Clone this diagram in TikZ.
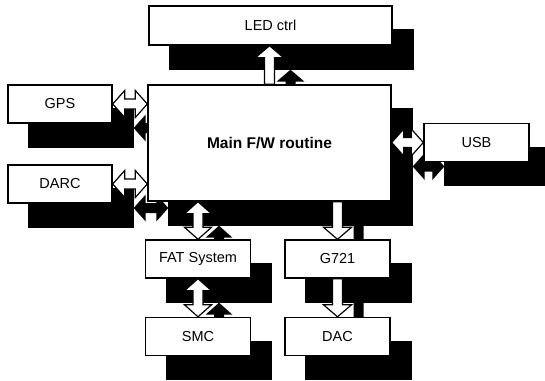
\documentclass[tikz,border=0pt]{standalone}
\usepackage{fontspec}
\setmainfont{Liberation Sans}
\usetikzlibrary{calc}

\pgfdeclarelayer{bg}
\pgfsetlayers{bg,main}

\tikzset{
  unit/.style={draw, fill=white, line width=1.4pt, inner sep=0pt,
    font=\fontsize{14.5}{16}\selectfont},
  smallunit/.style={unit, minimum width=105, minimum height=38},
  wideunit/.style={unit, minimum width=243},
  link/.style={fill=white, line width=1.2pt},
  onearrow/.style={to path={
    ($(\tikztotarget)!12pt!(\tikztostart)$) coordinate (hB)
    ($(\tikztostart)!5pt!90:(\tikztotarget)$) -- ($(hB)!5pt!-90:(\tikztostart)$)
    -- ($(hB)!14pt!-90:(\tikztostart)$) -- (\tikztotarget)
    -- ($(hB)!14pt!90:(\tikztostart)$) -- ($(hB)!5pt!90:(\tikztostart)$)
    -- ($(\tikztostart)!5pt!-90:(\tikztotarget)$) -- cycle}},
  twoarrow/.style={to path={
    ($(\tikztostart)!12pt!(\tikztotarget)$) coordinate (hA)
    ($(\tikztotarget)!12pt!(\tikztostart)$) coordinate (hB)
    (\tikztostart) -- ($(hA)!13.5pt!90:(\tikztotarget)$) -- ($(hA)!5pt!90:(\tikztotarget)$)
    -- ($(hB)!5pt!-90:(\tikztostart)$) -- ($(hB)!13.5pt!-90:(\tikztostart)$) -- (\tikztotarget)
    -- ($(hB)!13.5pt!90:(\tikztostart)$) -- ($(hB)!5pt!90:(\tikztostart)$)
    -- ($(hA)!5pt!-90:(\tikztotarget)$) -- ($(hA)!13.5pt!-90:(\tikztotarget)$) -- cycle}}
}

% block arrow with its black shadow behind everything
\newcommand{\hookup}[3]{%
  \begin{pgfonlayer}{bg}
    \fill[transform canvas={shift={(21,24)}}] #2 to[#1] #3;
  \end{pgfonlayer}
  \draw[link] #2 to[#1] #3;}

\begin{document}
\begin{tikzpicture}[x=1pt,y=-1pt]
    \useasboundingbox (0,0) rectangle (545,380);

    \node[wideunit, minimum height=39] (led) at (270.5,25.5) {LED ctrl};
    \node[smallunit, minimum width=104] (gps) at (60,104) {GPS};
    \node[smallunit, minimum width=104] (darc) at (60,184) {DARC};
    \node[wideunit, minimum height=116, font=\fontsize{15.5}{17}\bfseries] (main) at (269.5,143) {Main F/W routine};
    \node[smallunit] (usb) at (476.5,142.5) {USB};
    \node[smallunit] (fat) at (198,259) {FAT System};
    \node[smallunit] (g721) at (337.5,259) {G721};
    \node[smallunit] (smc) at (198,336.5) {SMC};
    \node[smallunit] (dac) at (337.5,336.5) {DAC};

    % shadows of the boxes
    \begin{pgfonlayer}{bg}
      \foreach \n in {led,gps,darc,main,usb,fat,g721,smc,dac}
        \fill ([shift={(21,24)}]\n.south west) rectangle ([shift={(21,24)}]\n.north east);
    \end{pgfonlayer}

    \hookup{onearrow}{(main.north)}{(main.north |- led.south)}
    \hookup{twoarrow}{(gps.east)}{(gps.east -| main.west)}
    \hookup{twoarrow}{(darc.east)}{(darc.east -| main.west)}
    \hookup{twoarrow}{(usb.west -| main.east)}{(usb.west)}
    \hookup{twoarrow}{(fat.north |- main.south)}{(fat.north)}
    \hookup{twoarrow}{(fat.south)}{(smc.north)}
    \hookup{onearrow}{(g721.north |- main.south)}{(g721.north)}
    \hookup{onearrow}{(g721.south)}{(dac.north)}

\end{tikzpicture}
\end{document}
